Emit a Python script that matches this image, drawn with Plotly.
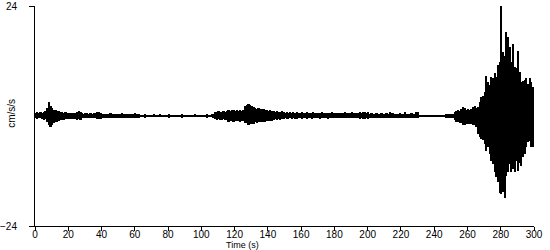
import numpy as np
import plotly.graph_objects as go

# Time axis: one envelope sample per second (bin centres), seconds
t_start = 0.0
t_step = 1.0

# Upper envelope of the trace per 1-s bin (cm/s/s)
upper = [
    0.7, 0.8, 0.6, 0.8, 0.7, 0.9, 1.0, 1.8, 3.0, 2.1,
    1.7, 1.3, 1.4, 1.1, 1.0, 0.8, 0.9, 0.7, 0.8, 0.7,
    0.6, 0.7, 0.7, 0.6, 0.7, 0.9, 1.1, 0.9, 0.6, 0.5,
    0.6, 0.6, 0.5, 0.6, 0.5, 0.6, 0.6, 0.8, 0.9, 0.7,
    0.4, 0.4, 0.5, 0.4, 0.4, 0.6, 0.4, 0.4, 0.4, 0.5,
    0.4, 0.4, 0.6, 0.4, 0.4, 0.4, 0.5, 0.4, 0.4, 0.4,
    0.6, 0.4, 0.4, 0.3, 0.3, 0.3, 0.5, 0.3, 0.3, 0.3,
    0.3, 0.5, 0.3, 0.3, 0.3, 0.4, 0.3, 0.3, 0.3, 0.3,
    0.5, 0.3, 0.3, 0.3, 0.3, 0.3, 0.3, 0.3, 0.5, 0.3,
    0.3, 0.3, 0.3, 0.3, 0.3, 0.3, 0.5, 0.3, 0.3, 0.3,
    0.3, 0.3, 0.3, 0.5, 0.3, 0.3, 0.4, 0.5, 0.9, 0.8,
    1.0, 0.9, 0.8, 1.0, 0.9, 1.0, 1.4, 1.2, 1.3, 1.4,
    1.2, 1.3, 1.2, 1.4, 1.1, 1.3, 2.2, 2.4, 2.6, 2.5,
    2.1, 2.0, 1.7, 1.6, 1.7, 1.6, 1.5, 1.6, 1.4, 1.3,
    1.2, 1.3, 1.1, 1.0, 0.9, 1.0, 0.8, 0.9, 1.0, 0.8,
    0.7, 0.9, 0.7, 0.8, 0.6, 0.8, 0.7, 0.9, 0.7, 0.6,
    0.8, 0.7, 0.6, 0.8, 0.7, 0.6, 0.7, 0.8, 0.6, 0.7,
    0.6, 0.7, 0.8, 0.6, 0.7, 0.6, 0.7, 0.6, 0.8, 0.6,
    0.7, 0.6, 0.7, 0.6, 0.7, 0.6, 0.8, 0.7, 0.6, 0.7,
    0.8, 0.6, 0.6, 0.7, 0.6, 0.9, 0.7, 0.9, 0.8, 0.6,
    0.9, 0.5, 0.6, 0.5, 0.5, 0.6, 0.5, 0.5, 0.6, 0.5,
    0.5, 0.6, 0.5, 0.8, 0.6, 0.7, 0.5, 0.5, 0.5, 0.6,
    0.5, 0.5, 0.8, 0.5, 0.5, 0.5, 0.6, 0.5, 0.5, 0.8,
    0.8, 0.3, 0.3, 0.3, 0.3, 0.3, 0.3, 0.3, 0.3, 0.3,
    0.3, 0.3, 0.3, 0.3, 0.3, 0.3, 0.3, 0.4, 0.4, 0.4,
    0.4, 0.4, 0.8, 1.1, 1.3, 1.2, 1.6, 1.9, 1.8, 1.4,
    1.5, 1.4, 1.5, 2.0, 2.1, 1.8, 1.9, 3.0, 4.1, 4.3,
    5.2, 8.7, 7.4, 6.7, 8.5, 8.2, 9.4, 8.6, 11.1, 11.8,
    23.9, 14.0, 13.0, 18.4, 17.3, 15.1, 11.8, 15.8, 10.7, 10.5,
    14.2, 9.6, 7.4, 7.6, 7.8, 8.2, 7.0, 8.4, 7.4, 6.3,
]

# Lower envelope of the trace per 1-s bin (cm/s/s)
lower = [
    -0.5, -0.6, -0.4, -0.5, -0.6, -0.8, -0.7, -1.2, -1.9, -2.3,
    -1.9, -1.5, -1.4, -1.2, -1.1, -0.9, -0.8, -0.9, -0.7, -0.7,
    -0.6, -0.7, -0.6, -0.7, -0.6, -0.8, -0.7, -0.8, -0.5, -0.5,
    -0.4, -0.5, -0.5, -0.4, -0.5, -0.5, -0.4, -0.7, -0.6, -0.6,
    -0.4, -0.4, -0.4, -0.5, -0.4, -0.4, -0.4, -0.5, -0.4, -0.4,
    -0.4, -0.4, -0.5, -0.4, -0.4, -0.4, -0.4, -0.5, -0.4, -0.4,
    -0.4, -0.4, -0.4, -0.3, -0.3, -0.3, -0.4, -0.3, -0.3, -0.3,
    -0.3, -0.3, -0.3, -0.3, -0.3, -0.3, -0.3, -0.3, -0.3, -0.3,
    -0.4, -0.3, -0.3, -0.3, -0.3, -0.3, -0.3, -0.3, -0.4, -0.3,
    -0.3, -0.3, -0.3, -0.3, -0.3, -0.3, -0.3, -0.3, -0.3, -0.3,
    -0.3, -0.3, -0.3, -0.4, -0.3, -0.3, -0.3, -0.4, -0.7, -0.8,
    -0.7, -0.9, -0.8, -0.7, -0.9, -0.8, -1.2, -1.0, -1.1, -1.2,
    -1.0, -1.1, -1.0, -1.2, -1.1, -1.0, -1.5, -1.6, -1.9, -1.8,
    -1.8, -1.7, -1.4, -1.5, -1.3, -1.3, -1.2, -1.3, -1.2, -1.1,
    -1.0, -1.1, -1.0, -0.8, -0.7, -0.8, -0.7, -0.8, -0.7, -0.6,
    -0.5, -0.6, -0.6, -0.5, -0.6, -0.5, -0.6, -0.6, -0.5, -0.5,
    -0.6, -0.5, -0.5, -0.6, -0.5, -0.5, -0.6, -0.5, -0.5, -0.5,
    -0.5, -0.6, -0.5, -0.5, -0.5, -0.5, -0.6, -0.5, -0.5, -0.5,
    -0.5, -0.5, -0.5, -0.5, -0.4, -0.5, -0.5, -0.4, -0.5, -0.5,
    -0.4, -0.5, -0.5, -0.4, -0.5, -0.6, -0.5, -0.6, -0.6, -0.5,
    -0.6, -0.4, -0.4, -0.4, -0.4, -0.4, -0.4, -0.4, -0.4, -0.4,
    -0.4, -0.4, -0.4, -0.5, -0.4, -0.5, -0.4, -0.4, -0.4, -0.4,
    -0.4, -0.4, -0.5, -0.4, -0.4, -0.4, -0.4, -0.4, -0.4, -0.5,
    -0.4, -0.3, -0.3, -0.3, -0.3, -0.3, -0.3, -0.3, -0.3, -0.3,
    -0.3, -0.3, -0.3, -0.3, -0.3, -0.3, -0.3, -0.4, -0.4, -0.4,
    -0.4, -0.4, -0.9, -1.2, -1.4, -1.5, -1.6, -1.9, -1.9, -1.7,
    -1.8, -1.7, -1.8, -1.9, -2.0, -2.5, -3.9, -4.5, -5.0, -5.2,
    -6.1, -7.6, -6.8, -8.3, -9.8, -10.5, -12.3, -13.4, -14.5, -16.7,
    -17.1, -16.5, -17.9, -13.0, -12.3, -10.5, -12.3, -11.6, -12.3, -9.8,
    -12.0, -10.2, -11.0, -9.0, -8.3, -6.8, -5.7, -5.4, -6.8, -6.8,
]

x_ticks = list(range(0, 301, 20))
y_ticks = [-24, 24]
x_title = "Time (s)"
y_title = "cm/s/s"

up = np.array(upper)
lo = np.array(lower)
t = t_start + t_step * (np.arange(len(up)) + 0.5)

FONT = "Liberation Sans Narrow, Liberation Sans, Arial, sans-serif"
FS = 10

fig = go.Figure()
fig.add_trace(go.Bar(
    x=t, y=up - lo, base=lo, width=t_step,
    marker=dict(color="black", line=dict(width=0)),
    hoverinfo="skip",
))

fig.update_layout(
    width=550, height=250,
    margin=dict(l=35, r=16, t=6, b=24, autoexpand=False),
    paper_bgcolor="white", plot_bgcolor="white",
    showlegend=False, bargap=0,
    font=dict(family=FONT, size=FS, color="black"),
)
fig.update_xaxes(
    range=[0, 300], tickvals=x_ticks, ticks="outside", ticklen=4,
    tickcolor="black", showline=True, linecolor="black", linewidth=1,
    showgrid=False, zeroline=False, ticklabeloverflow="allow",
    automargin=False, ticklabelstandoff=-5,
    tickfont=dict(family=FONT, size=FS, color="black"),
)
fig.update_yaxes(
    range=[-24, 24], tickvals=y_ticks, ticks="outside", ticklen=5,
    tickcolor="black", showline=True, linecolor="black", linewidth=1,
    showgrid=False, zeroline=False, ticklabelstandoff=10,
    ticklabeloverflow="allow", automargin=False,
    tickfont=dict(family=FONT, size=FS, color="black"),
)
fig.add_annotation(
    text=x_title, xref="paper", yref="paper", x=0.415, y=-0.0886,
    xanchor="center", yanchor="middle", showarrow=False,
    font=dict(family=FONT, size=9, color="black"),
)
fig.add_annotation(
    text=y_title, xref="paper", yref="paper", x=-0.046, y=0.51,
    xanchor="center", yanchor="middle", showarrow=False, textangle=-90,
    font=dict(family=FONT, size=FS, color="black"),
)

fig.write_html("out.html")
